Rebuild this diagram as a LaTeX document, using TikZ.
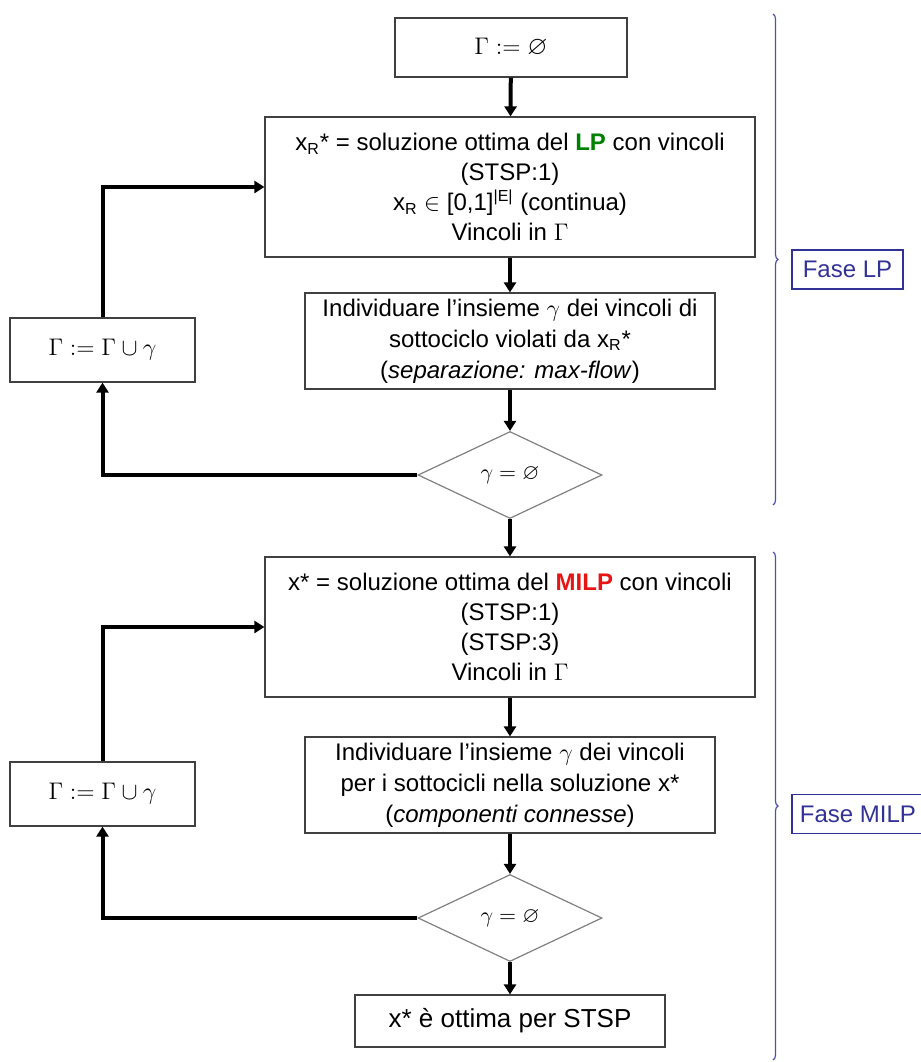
\documentclass[tikz,border=0pt]{standalone}
\usepackage{amsmath, amssymb}
\usepackage{fontspec}
\setmainfont{Liberation Sans}
\usepackage{xcolor}
\usetikzlibrary{positioning, arrows.meta, shapes.geometric, decorations.pathreplacing}
\definecolor{lpgreen}{RGB}{0,128,0}
\definecolor{milpred}{RGB}{230,20,20}
\definecolor{fasecol}{RGB}{50,50,150}
\definecolor{bracecol}{RGB}{80,80,170}
\newcommand{\xR}{x\textsubscript{R}}

\begin{document}
\begin{tikzpicture}[x=0.5pt, y=-0.5pt,
    box/.style={draw=black!75, line width=0.6pt, align=center, inner sep=0pt,
      font=\fontsize{12}{15}\selectfont},
    test/.style={draw=black!50, line width=0.6pt, shape=diamond, aspect=2.1,
      minimum width=92pt, minimum height=43.5pt, inner sep=0pt, font=\fontsize{11}{13}\selectfont},
    fase/.style={draw=fasecol, line width=0.6pt, text=fasecol, inner sep=0pt,
      minimum height=19.5pt, font=\fontsize{12}{14}\selectfont},
    arr/.style={line width=2pt, -{Triangle[length=5pt, width=6pt]}},
    brace/.style={draw=bracecol, line width=0.6pt, decorate,
      decoration={brace, amplitude=2.5pt}}]
  \useasboundingbox (0,0) rectangle (921,1062);

  % fase LP
  \node[box, minimum width=116pt, minimum height=29.5pt, font=\fontsize{13}{15}\selectfont] (init) at (511,47.5) {$\Gamma := \varnothing$};
  \node[box, minimum width=245pt, minimum height=70pt] (lp) at (510,187)
    {\xR* = soluzione ottima del \textcolor{lpgreen}{\textbf{LP}} con vincoli\\
     (STSP:1)\\
     \xR{} $\in$ [0,1]\textsuperscript{|E|} (continua)\\
     Vincoli in $\Gamma$};
  \node[box, minimum width=205pt, minimum height=48pt, font=\fontsize{12}{15.5}\selectfont] (sep) at (510,341)
    {Individuare l’insieme $\gamma$ dei vincoli di\\
     sottociclo violati da \xR*\\
     (\textit{separazione: max-flow})};
  \node[test] (dec1) at (510,475) {$\gamma = \varnothing$};
  \node[box, minimum width=92.5pt, minimum height=32pt, font=\fontsize{13}{15}\selectfont] (upd1) at (102.5,350) {$\Gamma := \Gamma \cup \gamma$};

  % fase MILP
  \node[box, minimum width=245pt, minimum height=70pt] (milp) at (510,627)
    {x* = soluzione ottima del \textcolor{milpred}{\textbf{MILP}} con vincoli\\
     (STSP:1)\\
     (STSP:3)\\
     Vincoli in $\Gamma$};
  \node[box, minimum width=205pt, minimum height=48pt, font=\fontsize{12}{15.5}\selectfont] (comp) at (510,785)
    {Individuare l’insieme $\gamma$ dei vincoli\\
     per i sottocicli nella soluzione x*\\
     (\textit{componenti connesse})};
  \node[test] (dec2) at (510,918) {$\gamma = \varnothing$};
  \node[box, minimum width=92.5pt, minimum height=32pt, font=\fontsize{13}{15}\selectfont] (upd2) at (102.5,794) {$\Gamma := \Gamma \cup \gamma$};
  \node[box, minimum width=155pt, minimum height=26pt, font=\fontsize{13}{15}\selectfont] (opt) at (510,1021) {x* è ottima per STSP};

  % connettori
  \draw[arr] (init) -- (lp);
  \draw[arr] (lp) -- (sep);
  \draw[arr] (sep) -- (dec1);
  \draw[arr] (dec1.west) -| (upd1.south);
  \draw[arr] (upd1.north) |- (lp.west);
  \draw[arr] (dec1.south) -- (milp);
  \draw[arr] (milp) -- (comp);
  \draw[arr] (comp) -- (dec2);
  \draw[arr] (dec2.west) -| (upd2.south);
  \draw[arr] (upd2.north) |- (milp.west);
  \draw[arr] (dec2.south) -- (opt);

  % graffe
  \coordinate (b1top) at (773,14);
  \coordinate (b1bot) at (773,505);
  \coordinate (b2top) at (773,552);
  \coordinate (b2bot) at (773,1060);
  \draw[brace] (b1top) -- (b1bot);
  \draw[brace] (b2top) -- (b2bot);
  \node[fase, minimum width=55.5pt] (faselp) at (847.5,269.5) {Fase LP};
  \node[fase, minimum width=66pt] (fasemilp) at (858,814) {Fase MILP};
\end{tikzpicture}
\end{document}
